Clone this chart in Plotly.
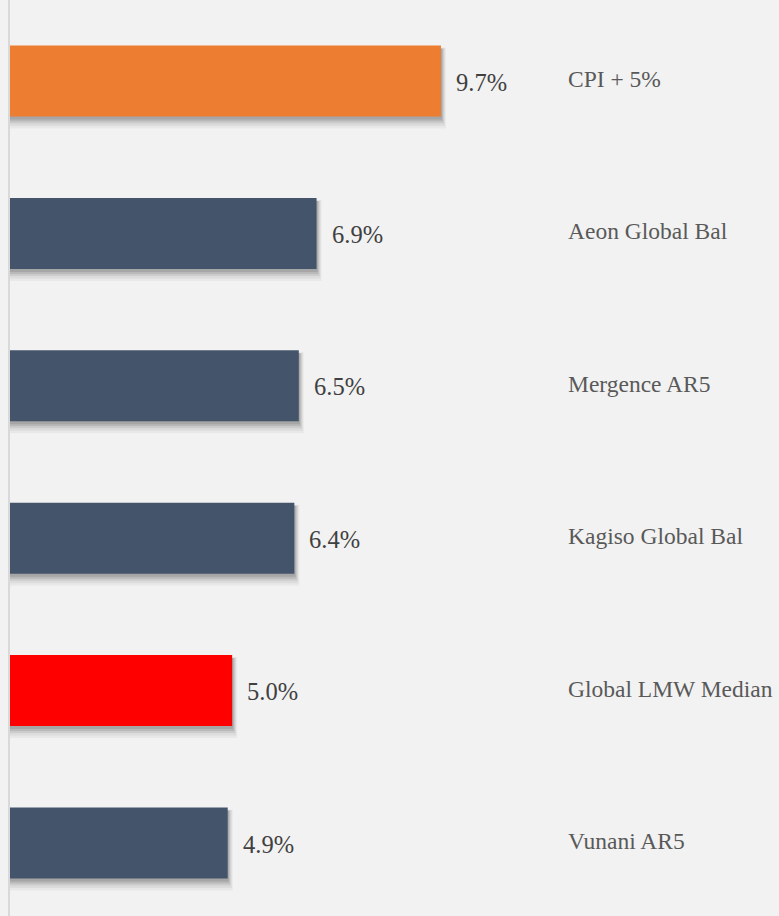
import plotly.graph_objects as go

categories = ["CPI + 5%", "Aeon Global Bal", "Mergence AR5", "Kagiso Global Bal", "Global LMW Median", "Vunani AR5"]
values = [9.7, 6.9, 6.5, 6.4, 5.0, 4.9]
value_labels = ["9.7%", "6.9%", "6.5%", "6.4%", "5.0%", "4.9%"]
bar_colors = ["#ED7D31", "#44546A", "#44546A", "#44546A", "#FF0000", "#44546A"]

W, H = 779, 916
left = 10
px_per_unit = 44.43
xmax = (W - left) / px_per_unit
band = 152.4
ymin = -81 / band
ymax = 5 + (H - 843) / band
bw = 0.466
u = 1 / band  # one pixel in category units
ux = 1 / px_per_unit  # one pixel in value units

idx = list(range(len(categories)))
fig = go.Figure()

# soft drop shadow layers (offset down and right, fading outward)
shadow_layers = [(5, 7, 0.04, 10), (4, 6, 0.05, 7), (3, 5, 0.07, 4), (2, 4, 0.09, 2), (1, 3, 0.10, 0)]
for sx, sy, a, grow in shadow_layers:
    fig.add_trace(go.Bar(
        x=[v + sx * ux for v in values], y=[i + sy * u for i in idx], orientation="h",
        width=bw + grow * u, marker=dict(color=f"rgba(0,0,0,{a})", line=dict(width=0)),
        hoverinfo="skip", showlegend=False))

fig.add_trace(go.Bar(
    x=values, y=idx, orientation="h", width=bw,
    marker=dict(color=bar_colors, line=dict(width=0)),
    showlegend=False))

annotations = []
for i, v in enumerate(values):
    annotations.append(dict(x=v, y=i, xref="x", yref="y", text=value_labels[i],
                            showarrow=False, xanchor="left", xshift=13, yshift=-1,
                            font=dict(family="Liberation Serif, serif", size=24.5, color="#404040")))
    annotations.append(dict(x=(566 - left) / px_per_unit, y=i, xref="x", yref="y", text=categories[i],
                            showarrow=False, xanchor="left", yshift=2,
                            font=dict(family="Liberation Serif, serif", size=23.5, color="#595959")))

fig.update_layout(
    width=W, height=H, barmode="overlay",
    paper_bgcolor="#f2f2f2", plot_bgcolor="#f2f2f2",
    margin=dict(l=left, r=0, t=0, b=0),
    xaxis=dict(range=[0, xmax], showgrid=False, zeroline=False, showticklabels=False, visible=False),
    yaxis=dict(range=[ymax, ymin], showgrid=False, zeroline=False, showticklabels=False,
               showline=True, linecolor="#d9d9d9", linewidth=2, ticks=""),
    annotations=annotations,
)

fig.write_html("out.html", config={"displayModeBar": False},
               post_script="document.body.style.margin='0';document.body.style.background='#f2f2f2';")
